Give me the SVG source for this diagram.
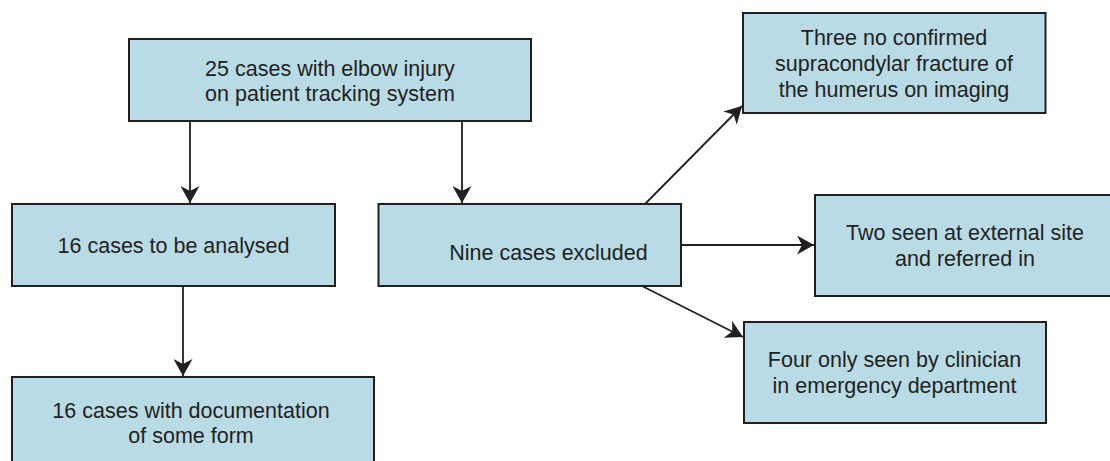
<svg xmlns="http://www.w3.org/2000/svg" width="1110" height="461" viewBox="0 0 1110 461">
<style>
.box{fill:#b9dbe6;stroke:#231f20;stroke-width:2}
.t{font-family:"Liberation Sans",Arial,sans-serif;font-size:21.5px;fill:#231f20;text-anchor:middle}
.c{stroke:#231f20;stroke-width:1.8;fill:none}
</style>
<defs>
<marker id="ah" markerUnits="userSpaceOnUse" viewBox="0 0 17 19" refX="17" refY="9.5" markerWidth="17" markerHeight="19" orient="auto">
<path d="M0,0 L17,9.5 L0,19 L5,9.5 Z" fill="#231f20"/>
</marker>
</defs>
<rect width="1110" height="461" fill="#ffffff"/>
<g id="connectors">
<line class="c" x1="190" y1="121" x2="190" y2="203" marker-end="url(#ah)"/>
<line class="c" x1="462" y1="121" x2="462" y2="203" marker-end="url(#ah)"/>
<line class="c" x1="183" y1="286" x2="183" y2="376" marker-end="url(#ah)"/>
<line class="c" x1="645" y1="204" x2="742" y2="106" marker-end="url(#ah)"/>
<line class="c" x1="681" y1="245" x2="814" y2="245" marker-end="url(#ah)"/>
<line class="c" x1="642" y1="286" x2="743" y2="337" marker-end="url(#ah)"/>
</g>
<g id="n_total">
<rect class="box" x="129" y="39" width="402" height="82"/>
<text class="t" x="330" y="76">25 cases with elbow injury</text>
<text class="t" x="330" y="101">on patient tracking system</text>
</g>
<g id="n_analysed">
<rect class="box" x="12" y="204" width="323" height="82"/>
<text class="t" x="173.5" y="253">16 cases to be analysed</text>
</g>
<g id="n_excluded">
<rect class="box" x="378.5" y="204" width="302.5" height="82"/>
<text class="t" x="548.5" y="260">Nine cases excluded</text>
</g>
<g id="n_docs">
<rect class="box" x="12" y="377" width="362" height="100"/>
<text class="t" x="191" y="418">16 cases with documentation</text>
<text class="t" x="191" y="443">of some form</text>
</g>
<g id="n_three">
<rect class="box" x="743" y="13" width="302.5" height="100"/>
<text class="t" x="894" y="45">Three no confirmed</text>
<text class="t" x="894" y="71">supracondylar fracture of</text>
<text class="t" x="894" y="97">the humerus on imaging</text>
</g>
<g id="n_two">
<rect class="box" x="815" y="195" width="310" height="101"/>
<text class="t" x="965" y="240">Two seen at external site</text>
<text class="t" x="965" y="266">and referred in</text>
</g>
<g id="n_four">
<rect class="box" x="744" y="322" width="302" height="101"/>
<text class="t" x="894.5" y="367">Four only seen by clinician</text>
<text class="t" x="894.5" y="393">in emergency department</text>
</g>
</svg>
